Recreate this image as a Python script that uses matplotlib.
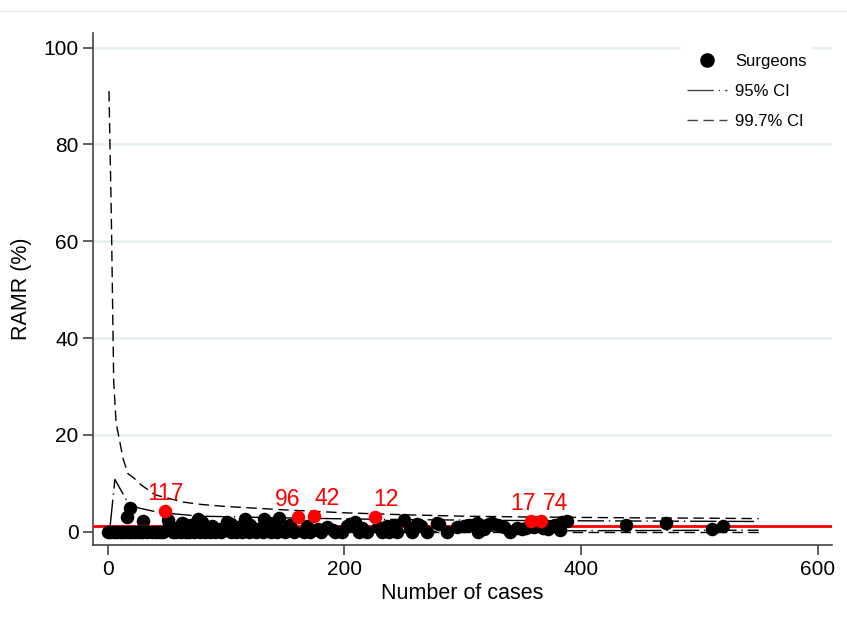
import numpy as np
import matplotlib.pyplot as plt
from matplotlib.lines import Line2D

plt.rcParams['font.family'] = ['Liberation Sans', 'DejaVu Sans']

# surgeons: number of cases and RAMR (%)
zero_n = [0, 2, 5, 8, 11, 14, 17, 20, 23, 26, 29, 33, 37, 41, 44, 47, 55, 58, 62, 66,
          69, 73, 78, 82, 86, 91, 96, 104, 108, 113, 119, 125, 131, 138, 143, 150, 157,
          166, 171, 180, 192, 198, 212, 219, 232, 238, 244, 257, 270, 287, 313, 340]
low_n = [52, 58, 64, 72, 80, 88, 95, 104, 110, 120, 126, 136, 142, 150, 168, 178, 190,
         205, 215, 228, 236, 242, 255, 265, 280, 295, 305, 318, 322, 335, 350, 360, 372, 378]
low_r = [1.3, 0.8, 1.5, 0.6, 1.9, 1.1, 0.5, 1.6, 0.9, 1.4, 0.5, 1.8, 1.0, 0.4, 1.2, 0.6, 0.3,
         1.6, 0.7, 0.9, 1.1, 1.4, 0.8, 1.2, 1.5, 1.0, 1.3, 0.6, 1.6, 1.0, 0.5, 0.9, 0.6, 1.4]
mid_n = [19, 16, 30, 51, 63, 76, 70, 101, 116, 132, 145, 185, 154, 209, 202,
         250, 261, 278, 301, 312, 325, 330, 346, 353, 368, 375, 382, 388, 384,
         438, 472, 511, 520]
mid_r = [4.9, 3.0, 2.3, 2.5, 1.8, 2.7, 1.4, 2.1, 2.7, 2.7, 2.8, 1.0, 1.4, 2.1, 1.2,
         2.5, 1.65, 1.8, 1.1, 1.8, 1.8, 1.4, 0.8, 0.8, 0.8, 1.2, 0.4, 2.3, 2.1,
         1.4, 1.8, 0.56, 1.1]

# flagged surgeons (red)
flag_n = [48, 161, 174, 226, 358, 366]
flag_r = [4.3, 3.0, 3.3, 3.0, 2.3, 2.3]
flag_id = ['117', '96', '42', '12', '17', '74']
flag_dx = [1, -11, 13, 11, -8, 15]

mean_rate = 1.15

# control limits
ci_n = [1, 3, 5, 7, 13, 17, 22, 28, 40, 64, 80, 100, 150, 200, 250, 300, 350, 400, 450, 500, 550]
up997 = [91, 65, 31, 22.5, 15, 12, 11.1, 9.7, 7.6, 6.1, 5.6, 5.2, 4.5, 3.9, 3.5, 3.2, 3.05,
         2.95, 2.85, 2.8, 2.7]
lo997 = [0] * len(ci_n)

ci95_n = [2, 6, 17, 26, 39, 46, 78, 100, 150, 200, 250, 300, 350, 400, 450, 500, 550]
up95 = [1.2, 10.8, 6.0, 4.9, 4.2, 3.9, 3.2, 3.1, 2.85, 2.65, 2.5, 2.4, 2.3, 2.25, 2.2, 2.15, 2.1]
lo95 = [0, 0, 0, 0, 0, 0, 0, 0, 0, 0, 0, 0.1, 0.15, 0.2, 0.24, 0.28, 0.3]

fig = plt.figure(figsize=(8.47, 6.24), dpi=100)
ax = fig.add_axes([93 / 847, 1 - 545 / 624, (832 - 93) / 847, (545 - 33) / 624])
fig.add_artist(Line2D([0, 1], [1 - 11 / 624] * 2, transform=fig.transFigure,
                      color='#e6ecec', lw=1))

for y in [20, 40, 60, 80, 100]:
    ax.axhline(y, color='#e6eff0', lw=1.8, zorder=0)

dash95 = (0, (19, 3.5, 1, 3.5))
dash997 = (0, (7.5, 4))
ax.plot(ci95_n, up95, color='black', lw=1, linestyle=dash95, zorder=2)
ax.plot(ci95_n, lo95, color='black', lw=1, linestyle=dash95, zorder=2)
ax.plot(ci_n, up997, color='black', lw=1, linestyle=dash997, zorder=2)
ax.plot(ci_n, lo997, color='black', lw=1, linestyle=dash997, zorder=2)

ax.axhline(mean_rate, color='red', lw=2, zorder=3)

all_n = zero_n + low_n + mid_n
all_r = [0] * len(zero_n) + low_r + mid_r
ax.scatter(all_n, all_r, s=95, color='black', zorder=4, linewidths=0)
ax.scatter(flag_n, flag_r, s=95, color='red', zorder=5, linewidths=0)
for n, r, lab, dx in zip(flag_n, flag_r, flag_id, flag_dx):
    ax.annotate(lab, (n, r), xytext=(dx, 11), textcoords='offset pixels',
                ha='center', va='baseline', color='red', fontsize=16.5, zorder=6)

ax.set_xlim(-12.5, 612)
ax.set_ylim(-2.75, 103)
ax.set_xticks([0, 200, 400, 600])
ax.set_yticks([0, 20, 40, 60, 80, 100])
for s in ['top', 'right']:
    ax.spines[s].set_visible(False)
for s in ['left', 'bottom']:
    ax.spines[s].set_color('#444444')
    ax.spines[s].set_linewidth(1.2)
ax.tick_params(axis='both', labelsize=15, length=7, width=1.2, color='#444444')
ax.set_xlabel('Number of cases', fontsize=15.5, labelpad=3)
ax.set_ylabel('RAMR (%)', fontsize=15.5, labelpad=8)

handles = [
    Line2D([], [], marker='o', color='black', linestyle='none', markersize=9.5),
    Line2D([], [], color='#444444', lw=1, linestyle=dash95),
    Line2D([], [], color='#444444', lw=1, linestyle=dash997),
]
leg = ax.legend(handles, ['Surgeons', '95% CI', '99.7% CI'], loc='upper left',
                bbox_to_anchor=(680 / 847, 1 - 47 / 624), bbox_transform=fig.transFigure,
                frameon=True, fontsize=12, handlelength=2.4, labelspacing=0.9,
                borderaxespad=0, handletextpad=0.5)
leg.get_frame().set_edgecolor('none')
leg.get_frame().set_facecolor('white')
leg.get_frame().set_alpha(1)
leg.set_zorder(7)

fig.savefig('out.png', dpi=100)
